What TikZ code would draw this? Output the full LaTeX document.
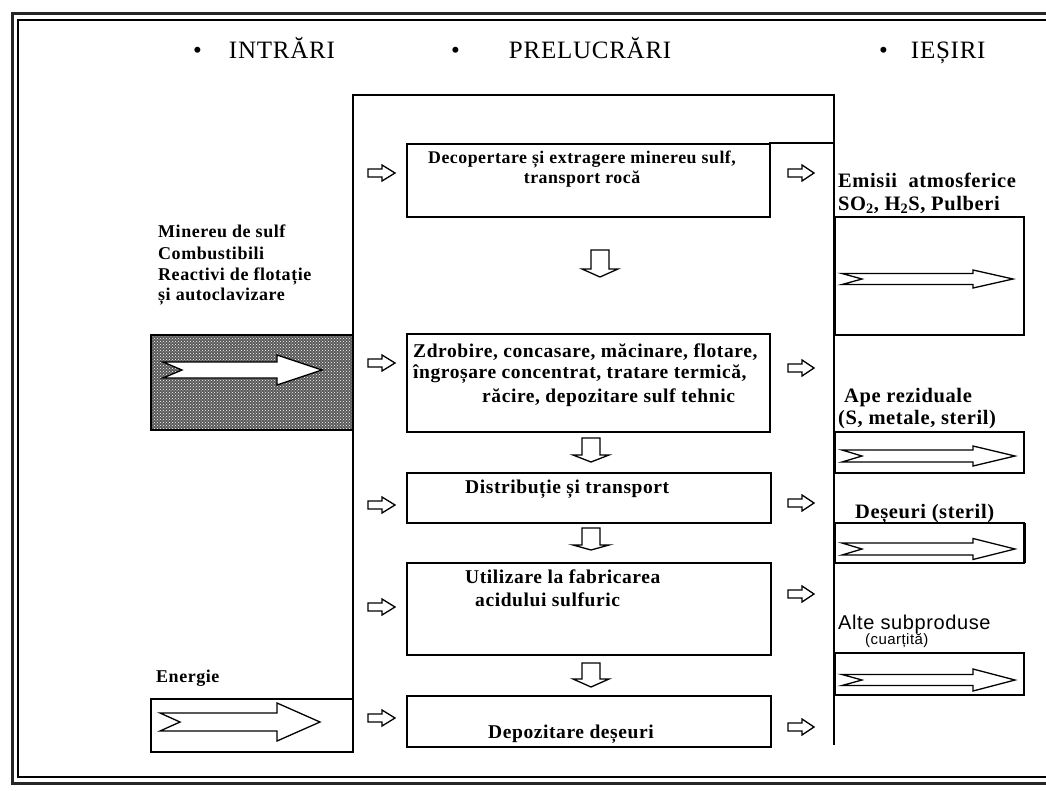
\documentclass[tikz,border=0pt]{standalone}
\usepackage{fontspec}
\setmainfont{Liberation Serif}
\newfontfamily\boxfont{Liberation Serif}[LetterSpace=3]
\newfontfamily\titlefont{Liberation Serif}[LetterSpace=3]
\newfontfamily\altfont{Liberation Sans}[LetterSpace=3]
\usetikzlibrary{patterns}

% horizontal block arrow: tail, notch, head start, tip, y centre, half shaft, half head
\newcommand{\myharrow}[7]{%
 \draw[blockarrow] ({#1},{#5-#6}) -- ({#3},{#5-#6}) -- ({#3},{#5-#7}) -- ({#4},{#5})
   -- ({#3},{#5+#7}) -- ({#3},{#5+#6}) -- ({#1},{#5+#6}) -- ({#2},{#5}) -- cycle;}
% downward block arrow: x centre, top, head start, tip, half shaft, half head
\newcommand{\mydarrow}[6]{%
 \draw[blockarrow] ({#1-#5},{#2}) -- ({#1+#5},{#2}) -- ({#1+#5},{#3}) -- ({#1+#6},{#3})
   -- ({#1},{#4}) -- ({#1-#6},{#3}) -- ({#1-#5},{#3}) -- cycle;}

\tikzset{
  blockarrow/.style={draw=black, fill=white, line width=1.3pt, line join=miter},
  pbox/.style={draw=black, line width=1.8pt, inner sep=0, fill=none},
  frameline/.style={draw=black, line width=1.8pt},
  boxtxt/.style={inner sep=0, font=\boxfont\bfseries\fontsize{19.5}{22}\selectfont},
  boxtxtA/.style={inner sep=0, font=\boxfont\bfseries\fontsize{17.8}{20}\selectfont},
  sidetxt/.style={inner sep=0, anchor=base west, font=\boxfont\bfseries\fontsize{18}{21}\selectfont},
  outtxt/.style={inner sep=0, anchor=base west, font=\boxfont\bfseries\fontsize{20.5}{22}\selectfont},
  titletxt/.style={inner sep=0, anchor=base west, font=\titlefont\fontsize{25}{28}\selectfont},
}

\begin{document}
\begin{tikzpicture}[x=1pt,y=-1pt]
\useasboundingbox (0,0) rectangle (1046,790);
\fill[white] (0,0) rectangle (1046,790);

% outer page frame
\draw[line width=3pt, black!85] (1046,13) -- (12,13) -- (12,783) -- (1046,783);
\draw[line width=1.4pt] (1046,20) -- (18,20) -- (18,777) -- (1046,777);

% titles
\node[titletxt] (tin) at (193,58) {\textbullet\hspace{27pt}INTRĂRI};
\node[titletxt] (tpr) at (451,58) {\textbullet\hspace{49pt}PRELUCRĂRI};
\node[titletxt] (tie) at (879,58) {\textbullet\hspace{23pt}IEȘIRI};

% big processing frame
\draw[frameline] (353,699) -- (353,95) -- (834,95) -- (834,745);
\draw[frameline] (769,143) -- (834,143);

% process boxes
\node[pbox, minimum width=363, minimum height=73] (b1) at (588.5,180.5) {};
\node[pbox, minimum width=363, minimum height=98] (b2) at (588.5,383) {};
\node[pbox, minimum width=364, minimum height=50] (b3) at (589,498) {};
\node[pbox, minimum width=364, minimum height=92] (b4) at (589,609) {};
\node[pbox, minimum width=364, minimum height=51] (b5) at (589,721.5) {};

% process texts
\node[boxtxtA, anchor=base] (t1a) at (582,163) {Decopertare și extragere minereu sulf,};
\node[boxtxtA, anchor=base] (t1b) at (582,183) {transport rocă};
\node[boxtxt, anchor=base west] (t2a) at (413,357) {Zdrobire, concasare, măcinare, flotare,};
\node[boxtxt, anchor=base west] (t2b) at (413,378) {îngroșare concentrat, tratare termică,};
\node[boxtxt, anchor=base west] (t2c) at (482,402) {răcire, depozitare sulf tehnic};
\node[boxtxt, anchor=base west] (t3) at (465,493) {Distribuție și transport};
\node[boxtxt, anchor=base west] (t4a) at (465,583) {Utilizare la fabricarea};
\node[boxtxt, anchor=base west] (t4b) at (475,606) {acidului sulfuric};
\node[boxtxt, anchor=base west] (t5) at (488,738) {Depozitare deșeuri};

% downward arrows between process boxes
\mydarrow{600}{250}{269}{277}{9}{18}
\mydarrow{591}{438}{455}{462}{9}{18}
\mydarrow{591}{528}{545}{550}{9}{18}
\mydarrow{591}{663}{679}{687}{9}{18}

% small arrows into and out of process boxes
\foreach \yy in {173,363,505,607,718} {\myharrow{368}{368}{382}{395}{\yy}{4}{8}}
\foreach \yy in {173,368,503,594,727} {\myharrow{788}{788}{802}{814}{\yy}{4}{8}}

% inputs
\node[sidetxt] (in1) at (158,237) {Minereu de sulf};
\node[sidetxt] (in2) at (158,259) {Combustibili};
\node[sidetxt] (in3) at (158,280) {Reactivi de flotație};
\node[sidetxt] (in4) at (158,300) {și autoclavizare};
\fill[black!65] (151,335) rectangle (353,430);
\fill[pattern=crosshatch dots, pattern color=white] (151,335) rectangle (353,430);
\node[pbox, minimum width=202, minimum height=95] (minbox) at (252,382.5) {};
\myharrow{163}{182}{277}{322}{370}{8}{15}

\node[sidetxt] (en) at (156,682) {Energie};
\node[pbox, minimum width=202, minimum height=53] (enbox) at (252,725.5) {};
\myharrow{160}{180}{277}{320}{722}{9}{19}

% outputs
\node[outtxt] (o1a) at (838,187) {Emisii\ \ atmosferice};
\node[outtxt] (o1b) at (838,210) {SO\textsubscript{2}, H\textsubscript{2}S, Pulberi};
\node[pbox, minimum width=189, minimum height=118] (ob1) at (929.5,276) {};
\myharrow{842}{862}{973}{1013}{279}{5.5}{9}

\node[outtxt] (o2a) at (844,402) {Ape reziduale};
\node[outtxt] (o2b) at (838,424) {(S, metale, steril)};
\node[pbox, minimum width=189, minimum height=41] (ob2) at (929.5,452.5) {};
\myharrow{842}{862}{973}{1015}{456}{6}{10}

\node[outtxt] (o3) at (855,518) {Deșeuri (steril)};
\node[pbox, minimum width=189, minimum height=40] (ob3) at (929.5,543) {};
\draw[line width=3pt] (1024,523) -- (1024,563);
\myharrow{842}{862}{973}{1015}{549}{6}{10.5}

\node[inner sep=0, anchor=base west, font=\altfont\fontsize{20}{22}\selectfont] (o4a) at (838,629) {Alte subproduse};
\node[inner sep=0, anchor=base west, font=\altfont\fontsize{15}{17}\selectfont] (o4b) at (865,644) {(cuarțită)};
\node[pbox, minimum width=189, minimum height=42] (ob4) at (929.5,674) {};
\myharrow{842}{862}{973}{1015}{680}{5.5}{11}
\end{tikzpicture}
\end{document}
